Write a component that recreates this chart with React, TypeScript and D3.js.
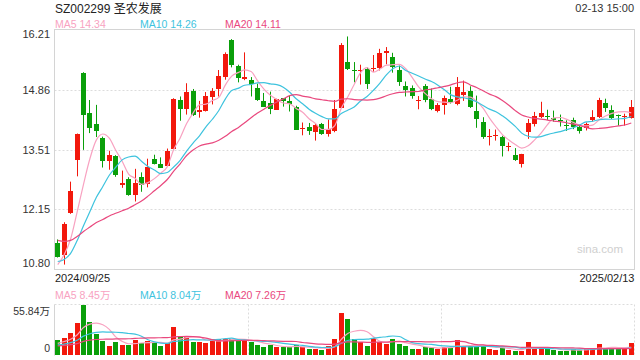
import React from "react";
import * as d3 from "d3";

const title = "SZ002299 圣农发展";
const timeLabel = "02-13 15:00";
const dateLabels = ["2024/09/25", "2025/02/13"];
const priceDomain = [10.8, 16.21];
const maPeriods = [5, 10, 20];
const maNames = ["MA5", "MA10", "MA20"];

// closes of the 19 sessions before the first drawn candle (for the moving averages)
const priorCloses = [12.25, 12.18, 12.10, 12.02, 11.95, 11.90, 11.84, 11.78, 11.70, 11.58,
  11.35, 11.18, 11.02, 10.90, 10.75, 10.70, 10.78, 10.85, 11.10];
const priorVolumes = [9.2, 8.5, 10.1, 8.8, 7.9, 9.4, 10.6, 8.7, 8.1, 9.0,
  9.8, 8.6, 9.1, 10.5, 9.9, 8.8, 11.6, 12.4, 14.8];

const opens = [
  11.39, 11.11, 12.06, 13.26, 15.25, 14.34, 14.09, 13.78, 13.24, 13.37,
  12.71, 12.83, 12.47, 12.89, 12.72, 13.30, 13.19, 13.14, 13.53, 14.63,
  14.42, 14.84, 14.35, 14.37, 14.69, 14.89, 15.16, 15.99, 15.40, 15.11,
  15.08, 14.91, 14.61, 14.57, 14.41, 14.67, 14.60, 14.48, 13.97, 14.01,
  13.90, 14.09, 13.87, 13.93, 14.46, 15.49, 15.31, 15.30, 15.34, 15.33,
  15.35, 15.70, 15.61, 15.31, 14.95, 14.91, 14.63, 14.95, 14.65, 14.37,
  14.51, 14.66, 14.55, 14.75, 14.84, 14.39, 14.14, 13.79, 13.83, 13.80,
  13.57, 13.38, 13.17, 13.90, 14.09, 14.25, 14.27, 14.23, 14.17, 14.07,
  14.17, 14.01, 13.99, 14.18, 14.24, 14.56, 14.41, 14.29, 14.24, 14.23,
];
const closes = [
  11.07, 11.81, 12.57, 13.87, 14.28, 13.99, 13.92, 13.24, 13.39, 12.92,
  12.74, 12.47, 12.76, 12.70, 13.12, 13.19, 13.10, 13.48, 14.65, 14.43,
  14.82, 14.29, 14.41, 14.73, 14.84, 15.18, 15.68, 15.43, 15.12, 15.15,
  15.00, 14.64, 14.48, 14.43, 14.66, 14.60, 14.55, 13.96, 13.99, 13.92,
  14.07, 13.87, 13.97, 14.43, 15.88, 15.34, 15.29, 15.32, 15.00, 15.35,
  15.70, 15.73, 15.37, 15.03, 14.86, 14.73, 14.64, 14.64, 14.43, 14.52,
  14.67, 14.58, 14.93, 14.82, 14.48, 14.19, 13.80, 13.81, 13.84, 13.59,
  13.58, 13.28, 13.41, 14.10, 14.27, 14.34, 14.24, 14.17, 14.15, 14.05,
  14.01, 13.92, 14.09, 14.24, 14.62, 14.46, 14.23, 14.26, 14.26, 14.48,
];
const highs = [
  11.47, 11.86, 12.78, 13.87, 15.26, 14.63, 14.52, 13.80, 13.48, 13.38,
  13.03, 12.88, 13.07, 12.99, 13.30, 13.39, 13.33, 13.53, 14.67, 14.71,
  15.01, 14.88, 14.61, 14.81, 14.90, 15.31, 15.71, 16.01, 15.43, 15.71,
  15.15, 15.00, 14.79, 14.82, 14.66, 14.67, 14.73, 14.50, 14.12, 14.11,
  14.09, 14.11, 14.19, 14.63, 15.92, 16.07, 15.49, 15.43, 15.37, 15.65,
  15.79, 15.83, 15.70, 15.41, 15.05, 14.96, 14.72, 14.99, 14.89, 14.56,
  14.73, 14.93, 15.15, 15.07, 14.94, 14.73, 14.24, 13.97, 13.96, 13.82,
  13.67, 13.54, 13.41, 14.20, 14.36, 14.59, 14.41, 14.39, 14.30, 14.17,
  14.23, 14.05, 14.12, 14.40, 14.68, 14.66, 14.51, 14.30, 14.32, 14.63,
];
const lows = [
  11.06, 10.90, 12.05, 12.90, 13.50, 13.88, 13.79, 13.10, 13.05, 12.89,
  12.64, 12.46, 12.33, 12.55, 12.65, 13.17, 13.10, 13.13, 13.53, 14.16,
  14.30, 14.27, 14.23, 14.37, 14.53, 14.71, 15.09, 15.37, 15.03, 15.08,
  14.71, 14.61, 14.48, 14.31, 14.41, 14.48, 14.37, 13.96, 13.83, 13.84,
  13.71, 13.84, 13.80, 13.90, 14.46, 15.31, 15.03, 14.98, 14.88, 15.27,
  15.30, 15.44, 15.25, 14.95, 14.71, 14.66, 14.42, 14.58, 14.40, 14.35,
  14.30, 14.55, 14.51, 14.61, 14.45, 14.00, 13.75, 13.60, 13.71, 13.35,
  13.47, 13.25, 13.10, 13.75, 14.03, 14.22, 14.18, 14.14, 14.03, 13.93,
  13.97, 13.87, 13.94, 14.14, 14.22, 14.36, 14.20, 14.05, 14.05, 14.21,
];
// volume in 万 shares
const volumes = [
  16.9, 19.1, 24.9, 35.8, 55.84, 36.5, 23.8, 16.1, 10.4, 14.0,
  11.4, 10.7, 17.2, 13.3, 16.1, 12.9, 10.4, 13.3, 31.1, 20.5,
  20.9, 15.0, 14.0, 12.9, 18.0, 18.0, 18.0, 18.3, 15.5, 16.9,
  14.0, 11.1, 8.5, 10.7, 8.5, 8.5, 8.5, 11.4, 8.5, 6.3,
  6.3, 6.0, 9.6, 18.0, 46.7, 39.8, 18.0, 14.4, 10.4, 18.7,
  15.0, 12.5, 18.0, 12.5, 10.4, 7.1, 7.1, 8.9, 8.2, 7.1,
  8.9, 8.2, 16.6, 9.6, 9.6, 10.0, 10.0, 7.1, 6.0, 8.2,
  5.5, 4.9, 4.9, 14.2, 6.9, 6.9, 6.9, 5.3, 4.65, 4.65,
  6.6, 5.4, 7.4, 6.6, 12.15, 7.3, 9.3, 6.4, 6.4, 12.85,
];

const UP = "#f2180c";
const DOWN = "#0a9f0a";
const MA_COLORS = ["#f8a2c1", "#3ec3de", "#e9487e"];
const FONT = "Arial, 'Liberation Sans', 'Noto Sans CJK SC', sans-serif";
const BORDER = "#d4d4d4";
const GRID = "#dcdcdc";

function movingAverage(series: number[], prior: number[], n: number): number[] {
  const all = prior.concat(series);
  const off = prior.length;
  return series.map((_, i) => {
    const j = i + off;
    const start = Math.max(0, j - n + 1);
    return d3.mean(all.slice(start, j + 1)) as number;
  });
}

export default function App() {
  const W = 640, H = 360;
  const L = 54.5, R = 634.5;
  const pTop = 29.5, pBot = 269.5;
  const vTop = 304.5, vBot = 355.5;
  const n = closes.length;

  const x = d3.scaleBand<number>().domain(d3.range(n)).range([L, R]).paddingInner(0.28).paddingOuter(0.14);
  const cx = (i: number) => (x(i) as number) + x.bandwidth() / 2;
  const y = d3.scaleLinear().domain(priceDomain).range([269, 30.3]);
  const vMax = d3.max(volumes) as number;
  const vy = d3.scaleLinear().domain([0, vMax]).range([355, 304.8]);

  const priceTicks = d3.range(5).map((k) => priceDomain[0] + ((priceDomain[1] - priceDomain[0]) * k) / 4);

  const priceMAs = maPeriods.map((p) => movingAverage(closes, priorCloses, p));
  const volMAs = maPeriods.map((p) => movingAverage(volumes, priorVolumes, p));

  const pLine = d3.line<number>().x((_, i) => cx(i)).y((d) => y(d)).curve(d3.curveMonotoneX);
  const vLine = d3.line<number>().x((_, i) => cx(i)).y((d) => vy(d)).curve(d3.curveMonotoneX);

  const legendX = [55, 140, 225];
  const third = (R - L) / 3;

  return (
    <svg width={W} height={H} style={{ position: "absolute", left: 0, top: 0, display: "block", background: "#fff" }} fontFamily={FONT}>
      <rect x={0} y={0} width={W} height={H} fill="#fff" />
      {/* header */}
      <text x={55} y={12.5} fontSize={12} fill="#222">{title}</text>
      <text x={634} y={12} fontSize={11} fill="#333" textAnchor="end">{timeLabel}</text>
      {maNames.map((nm, k) => (
        <text key={nm} x={legendX[k]} y={27.5} fontSize={10.5} fill={MA_COLORS[k]}>
          {`${nm} ${priceMAs[k][n - 1].toFixed(2)}`}
        </text>
      ))}

      {/* price panel frame & grid */}
      {priceTicks.slice(1, 4).map((t) => (
        <line key={t} x1={L} x2={R} y1={Math.round(y(t)) + 0.5} y2={Math.round(y(t)) + 0.5} stroke={GRID} strokeDasharray="2,2" />
      ))}
      <rect x={L} y={pTop} width={R - L} height={pBot - pTop} fill="none" stroke={BORDER} />
      {priceTicks.map((t, k) => (
        <text key={k} x={50} y={k === 0 ? 266.5 : k === 4 ? 38.3 : y(t) + 4} fontSize={11} fill="#333" textAnchor="end">
          {t.toFixed(2)}
        </text>
      ))}

      {/* watermark */}
      <text x={623} y={253} fontSize={11.5} fill="#cfcfcf" textAnchor="end">sina.com</text>

      {/* candles */}
      {closes.map((c, i) => {
        const o = opens[i];
        const up = c >= o;
        const col = up ? UP : DOWN;
        const bx = Math.round(cx(i) - 2.5);
        const top = Math.round(y(Math.max(o, c)));
        const bot = Math.round(y(Math.min(o, c)));
        return (
          <g key={i}>
            <line x1={bx + 2.5} x2={bx + 2.5} y1={y(highs[i])} y2={y(lows[i])} stroke={col} strokeWidth={1} />
            <rect x={bx} y={top} width={5} height={Math.max(1, bot - top)} fill={col} />
          </g>
        );
      })}

      {/* price MAs */}
      {priceMAs.map((m, k) => (
        <path key={k} d={pLine(m) as string} fill="none" stroke={MA_COLORS[k]} strokeWidth={1.2} />
      ))}

      {/* date labels */}
      <text x={55} y={281.7} fontSize={11} fill="#222">{dateLabels[0]}</text>
      <text x={634.5} y={281.7} fontSize={11} fill="#222" textAnchor="end">{dateLabels[1]}</text>

      {/* volume legend */}
      {maNames.map((nm, k) => (
        <text key={nm} x={legendX[k]} y={298.5} fontSize={10.5} fill={MA_COLORS[k]}>
          {`${nm} ${volMAs[k][n - 1].toFixed(2)}万`}
        </text>
      ))}

      {/* volume panel */}
      <line x1={L} x2={R} y1={vTop} y2={vTop} stroke={GRID} strokeDasharray="2,2" />
      <line x1={R} x2={R} y1={vTop} y2={vBot} stroke={GRID} strokeDasharray="2,2" />
      {[1, 2].map((k) => (
        <line key={k} x1={Math.round(L + third * k) + 0.5} x2={Math.round(L + third * k) + 0.5} y1={vTop} y2={vBot} stroke={GRID} strokeDasharray="2,2" />
      ))}
      <line x1={L} x2={L} y1={vTop} y2={vBot} stroke={BORDER} />
      <text x={50} y={315} fontSize={10.5} fill="#333" textAnchor="end">{`${vMax.toFixed(2)}万`}</text>
      <text x={50} y={351.7} fontSize={10.5} fill="#333" textAnchor="end">0</text>

      {volumes.map((v, i) => {
        const up = closes[i] >= opens[i];
        const bx = Math.round(cx(i) - 2.5);
        const top = Math.round(vy(v));
        return <rect key={i} x={bx} y={top} width={5} height={Math.max(1, 355 - top)} fill={up ? UP : DOWN} />;
      })}
      {volMAs.map((m, k) => (
        <path key={k} d={vLine(m) as string} fill="none" stroke={MA_COLORS[k]} strokeWidth={1.2} />
      ))}
    </svg>
  );
}
